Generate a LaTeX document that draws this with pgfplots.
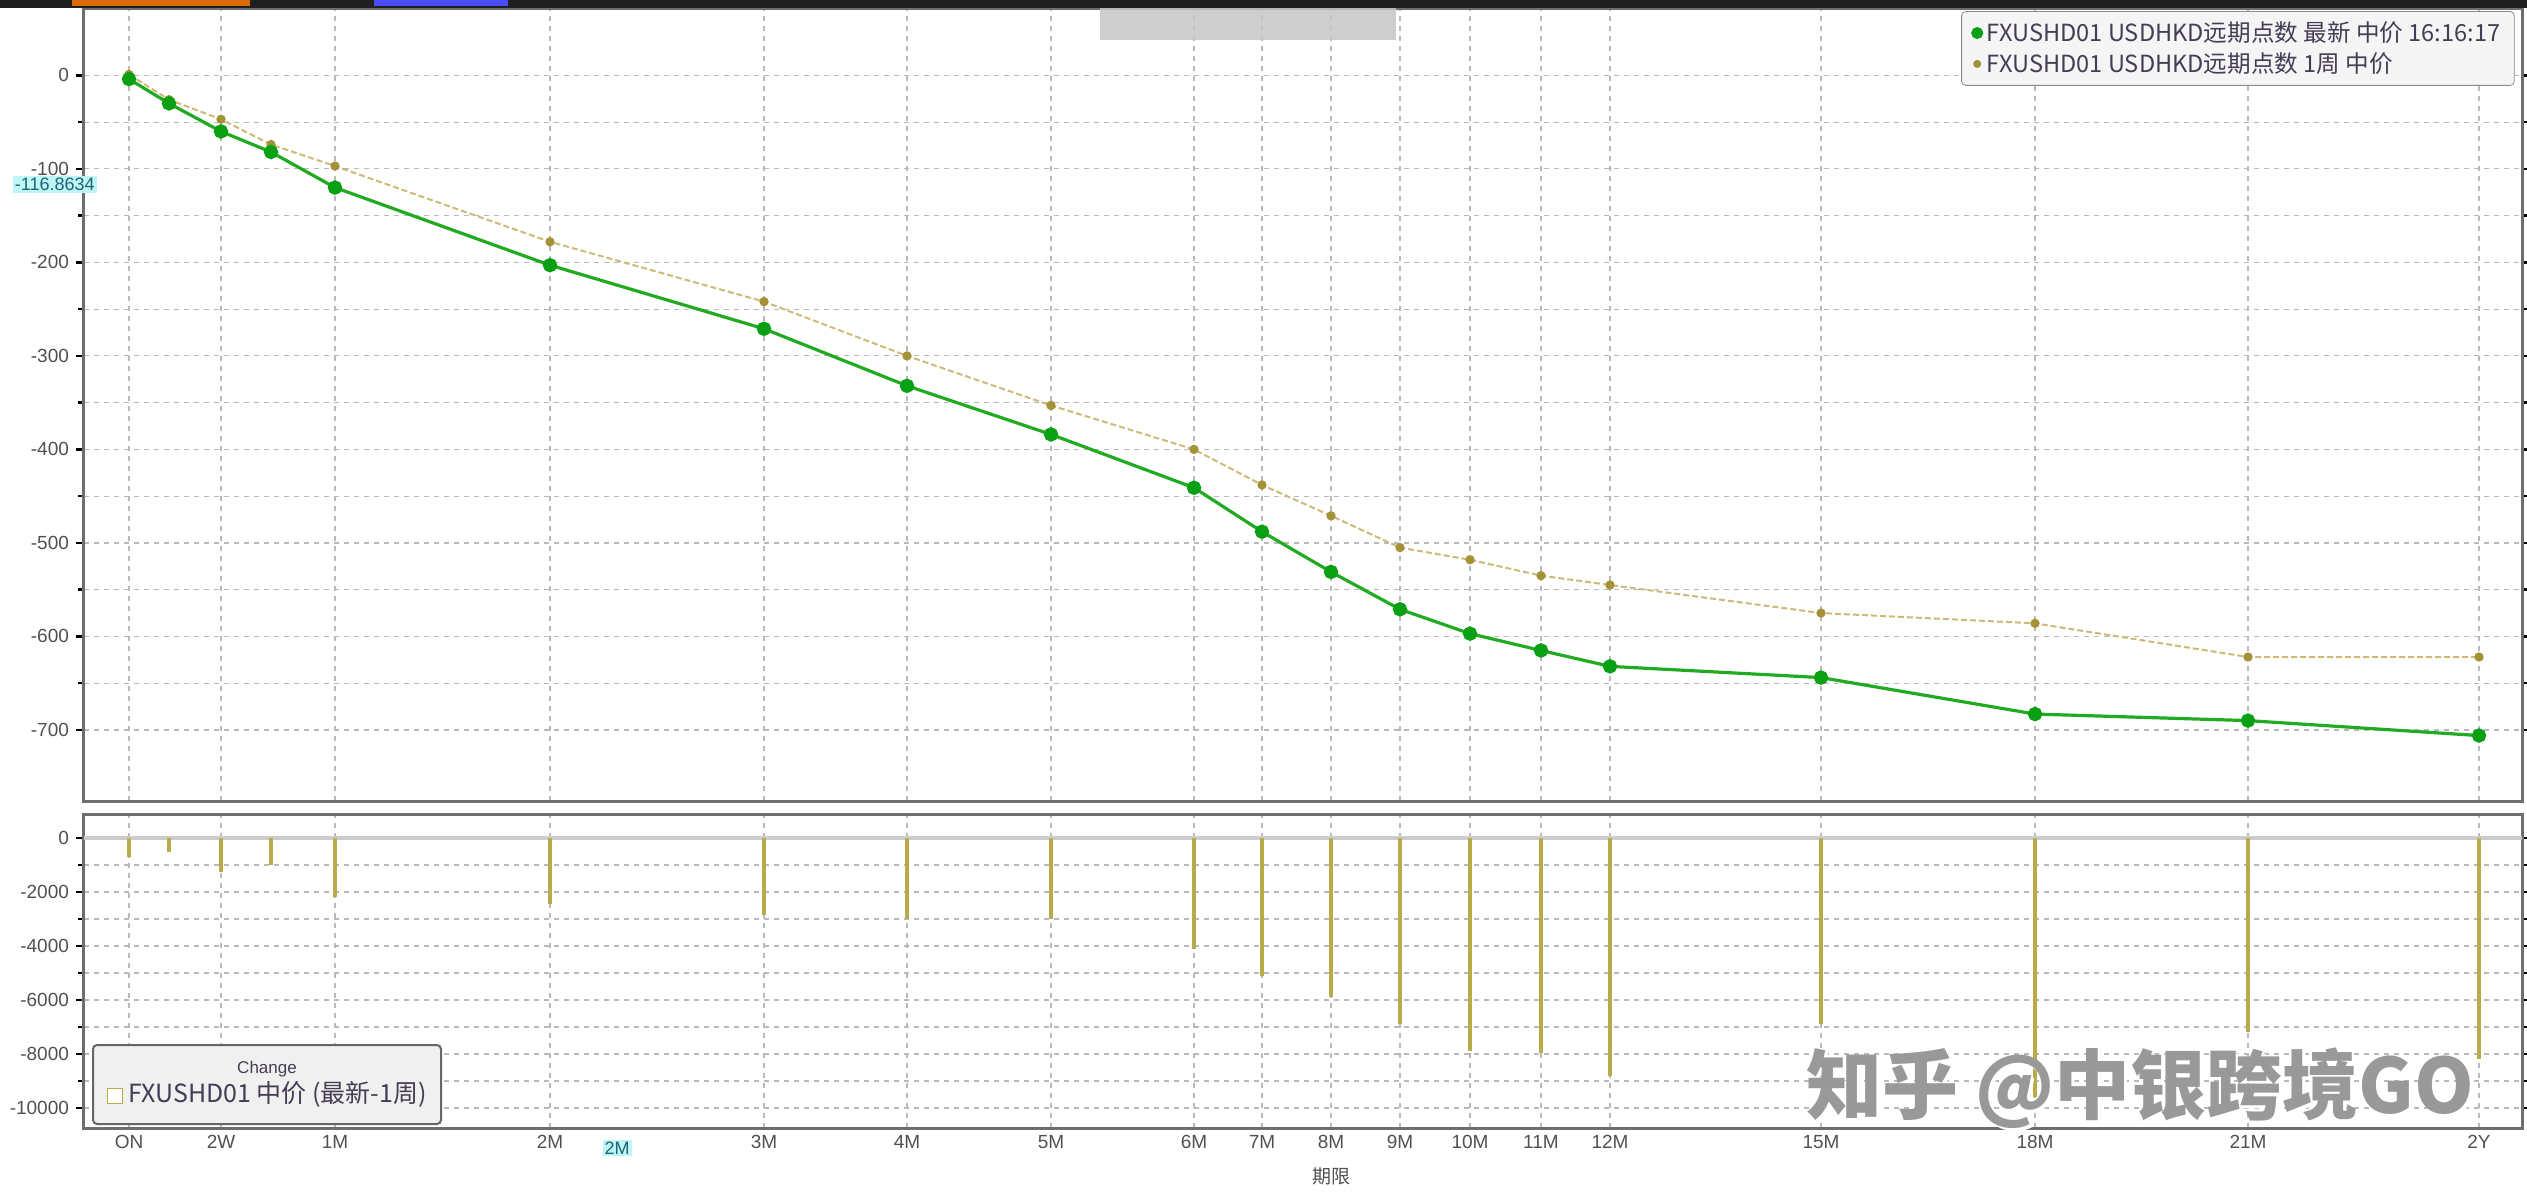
\documentclass[border=0pt]{standalone}
\usepackage{pgfplots}
\pgfplotsset{compat=1.18}
\usepackage{pgfplotstable}
\usepackage{fontspec}
\setmainfont{Liberation Sans}
\newfontfamily\cjk{Noto Sans CJK SC}
\definecolor{grn}{RGB}{34,170,34}
\definecolor{grnm}{RGB}{10,160,20}
\definecolor{tanl}{RGB}{205,185,120}
\definecolor{tanm}{RGB}{165,145,55}
\definecolor{barc}{RGB}{185,170,75}
\definecolor{gridc}{RGB}{185,185,185}
\definecolor{framec}{RGB}{110,110,110}
\definecolor{lblc}{RGB}{80,80,80}
\definecolor{legtx}{RGB}{70,60,85}
\definecolor{cyanbg}{RGB}{190,245,245}
\definecolor{cyantx}{RGB}{30,100,120}

\pgfplotstableread{
x green tan chg
129 -4 1 -700
169 -30 -26 -500
221 -60 -47 -1250
271 -82 -74 -1000
335 -120 -97 -2200
550 -203 -178 -2450
764 -271 -242 -2850
907 -332 -300 -3000
1051 -384 -353 -3000
1194 -441 -400 -4100
1262 -488 -438 -5100
1331 -531 -471 -5900
1400 -571 -505 -6900
1470 -597 -518 -7900
1541 -615 -535 -7950
1610 -632 -545 -8800
1821 -644 -575 -6900
2035 -683 -586 -9600
2248 -690 -622 -7200
2479 -706 -622 -8200
}\data

\begin{document}
\begin{tikzpicture}
\pgfplotsset{
  common/.style={
    scale only axis, width=1219pt, xmin=84, xmax=2522,
    xtick={129,221,335,550,764,907,1051,1194,1262,1331,1400,1470,1541,1610,1821,2035,2248,2479},
    grid=both,
    major grid style={gridc, dash pattern=on 2.5pt off 2.5pt, line width=0.6pt},
    minor grid style={gridc, dash pattern=on 2.5pt off 2.5pt, line width=0.6pt},
    axis line style={framec, line width=1.5pt},
    xtick style={draw=none},
    ytick style={black, line width=1.2pt},
    tick align=outside, major tick length=4pt, minor tick length=3pt,
    minor y tick num=1,
    scaled y ticks=false,
    tick label style={font=\fontsize{9.5}{10}\selectfont, text=lblc},
    /pgf/number format/assume math mode=true,
    /pgf/number format/1000 sep={},
    clip=false,
  }
}
% top panel
\begin{axis}[common, at={(42pt,-4pt)}, anchor=north west, height=396.5pt,
  ymin=-776, ymax=72, ytick={-700,-600,...,0}, xticklabels={},
  legend style={at={(0.997,0.996)}, anchor=north east, fill=black!4, draw=black!45,
    rounded corners=2pt, font=\cjk\fontsize{11.8}{13.5}\selectfont, text=legtx,
    inner xsep=5pt, inner ysep=3pt, cells={anchor=west}},
  legend cell align=left]
\addlegendimage{only marks, mark=*, mark size=2.8pt, mark options={fill=grnm, draw=grnm}}
\addlegendentry{FXUSHD01 USDHKD远期点数 最新 中价 16:16:17}
\addlegendimage{only marks, mark=*, mark size=1.8pt, mark options={fill=tanm, draw=tanm}}
\addlegendentry{FXUSHD01 USDHKD远期点数 1周 中价}
\addplot[tanl, line width=1pt, dash pattern=on 3pt off 1.5pt, mark=*, mark size=1.8pt,
  mark options={solid, fill=tanm, draw=tanm}, forget plot] table[x=x, y=tan]{\data};
\addplot[grn, line width=1.6pt, mark=*, mark size=2.8pt,
  mark options={fill=grnm, draw=grnm}, forget plot] table[x=x, y=green]{\data};
\node[fill=cyanbg, text=cyantx, inner sep=1pt, anchor=east, font=\fontsize{9}{10}\selectfont]
  at (axis cs:97,-116.8634) {-116.8634};
\end{axis}
% bottom panel
\begin{axis}[common, at={(42pt,-407pt)}, anchor=north west, height=157pt,
  ymin=-10740, ymax=890, ytick={-10000,-8000,...,0},
  xticklabels={ON,2W,1M,2M,3M,4M,5M,6M,7M,8M,9M,10M,11M,12M,15M,18M,21M,2Y},
  xticklabel shift={-4pt},
  extra y ticks={0}, extra y tick labels={},
  extra y tick style={major grid style={solid, gray!40, line width=1.8pt}, ytick style={draw=none}}]
\addplot[ycomb, barc, line width=1.6pt] table[x=x, y=chg]{\data};
\end{axis}
% decorations
\fill[black!88] (0,0) rectangle (1263.5pt,-4pt);
\fill[orange!85!black] (36pt,0) rectangle (125pt,-3pt);
\fill[blue!70] (187pt,0) rectangle (254pt,-3pt);
\fill[gray!45, opacity=0.85] (550pt,-4pt) rectangle (698pt,-20pt);
\node[fill=black!6, draw=black!60, line width=1pt, rounded corners=2pt, anchor=north west,
  minimum width=174pt, minimum height=39.5pt, align=center, inner sep=2pt, text=legtx]
  at (46pt,-522pt) {{\fontsize{8.5}{10}\selectfont Change}\\[1pt]
  {\setlength{\fboxsep}{0pt}\fcolorbox{barc}{white}{\rule{0pt}{7pt}\rule{7pt}{0pt}}}~{\cjk\fontsize{12.5}{14}\selectfont FXUSHD01 中价 (最新-1周)}};
\node[font=\cjk\bfseries\fontsize{38}{40}\selectfont, text=white] at (1071.5pt,-545.5pt) {知乎 @中银跨境GO};
\node[font=\cjk\bfseries\fontsize{38}{40}\selectfont, text=black!40] at (1070pt,-544pt) {知乎 @中银跨境GO};
\node[fill=cyanbg, text=cyantx, inner sep=1pt, font=\fontsize{9}{10}\selectfont] at (308.5pt,-574pt) {2M};
\node[font=\cjk\fontsize{9.5}{10}\selectfont, text=lblc] at (665.5pt,-588pt) {期限};
\pgfresetboundingbox
\path[use as bounding box] (0,0) rectangle (1263.5pt,-595.5pt);
\end{tikzpicture}
\end{document}
